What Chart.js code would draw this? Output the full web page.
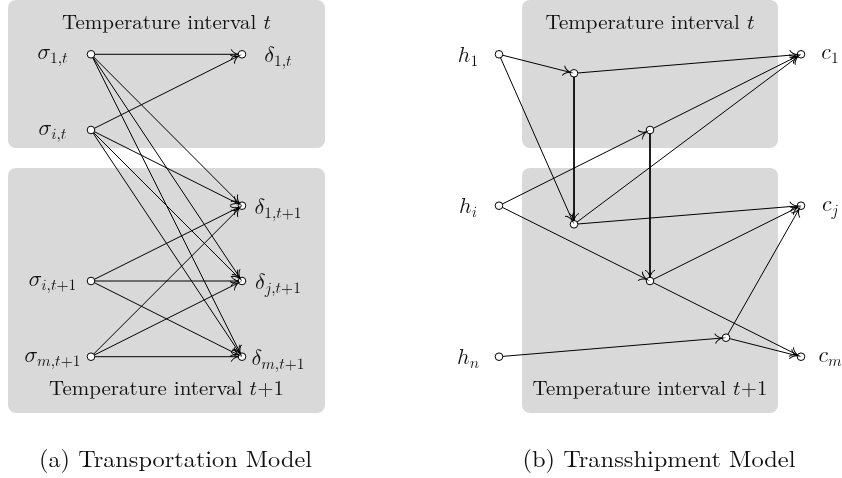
<!DOCTYPE html>
<html>
<head>
  <meta charset="UTF-8">
  <title>Transportation and Transshipment Models</title>
  <script src="https://cdn.jsdelivr.net/npm/chart.js"></script>
  <style>
    body, html {
      margin: 0;
      padding: 0;
      background: #fff;
    }

    #chart-container {
      width: 842px;
      height: 478px;
      position: relative;
    }
  </style>
</head>
<body>

  <div id="chart-container">
    <canvas id="diagram"></canvas>
  </div>

  <script>
    // nodes (diagram units, y grows downwards)
    const nodeIds  = ['s1t', 'sit', 'sit1', 'smt1', 'd1t', 'd1t1', 'djt1', 'dmt1',
                      'h1', 'hi', 'hn', 'a', 'b', 'c', 'd', 'e', 'c1', 'cj', 'cm'];
    const nodeX    = [91, 91, 91, 91, 242, 242, 242, 242,
                      499, 499, 499, 574, 650, 574, 650, 726, 801, 801, 801];
    const nodeY    = [54.3, 130, 281, 356.7, 54.3, 205.7, 281, 356.7,
                      54.3, 205.7, 356.7, 73.3, 130, 224.3, 281, 337.7, 54.3, 205.7, 356.7];
    const nodeSym  = ['σ', 'σ', 'σ', 'σ', 'δ', 'δ', 'δ', 'δ',
                      'h', 'h', 'h', '', '', '', '', '', 'c', 'c', 'c'];
    const nodeSub  = ['1,t', 'i,t', 'i,t+1', 'm,t+1', '1,t', '1,t+1', 'j,t+1', 'm,t+1',
                      '1', 'i', 'n', '', '', '', '', '', '1', 'j', 'm'];

    // arcs
    const edgeFrom = ['s1t', 's1t', 's1t', 's1t', 'sit', 'sit', 'sit', 'sit',
                      'sit1', 'sit1', 'sit1', 'smt1', 'smt1', 'smt1',
                      'h1', 'h1', 'a', 'a', 'hi', 'hi', 'b', 'b', 'c', 'c', 'd', 'd', 'hn', 'e', 'e'];
    const edgeTo   = ['d1t', 'd1t1', 'djt1', 'dmt1', 'd1t', 'd1t1', 'djt1', 'dmt1',
                      'd1t1', 'djt1', 'dmt1', 'd1t1', 'djt1', 'dmt1',
                      'a', 'c', 'c1', 'c', 'b', 'd', 'c1', 'd', 'c1', 'cj', 'cj', 'cm', 'e', 'cj', 'cm'];

    // temperature interval regions
    const boxLeft   = [8, 8, 522, 522];
    const boxRight  = [325, 325, 778, 778];
    const boxTop    = [0, 168, 0, 168];
    const boxBottom = [148, 413, 148, 413];
    const boxPeriod = ['t', 't+1', 't', 't+1'];

    const captions = ['(a) Transportation Model', '(b) Transshipment Model'];

    const ROMAN = '"Latin Modern Roman", "Liberation Serif", serif';
    const MATH = '"Latin Modern Math", "Latin Modern Roman", "Liberation Serif", serif';
    const NODE_R = 3.8;

    const pos = {};
    nodeIds.forEach((id, i) => { pos[id] = { x: nodeX[i], y: nodeY[i] }; });

    const edgeSets = edgeFrom.map((f, i) => ({
      data: [pos[f], pos[edgeTo[i]]],
      showLine: true,
      borderColor: '#000',
      borderWidth: 1,
      pointRadius: 0,
      order: 1
    }));

    const nodeSet = {
      data: nodeIds.map(id => pos[id]),
      pointRadius: NODE_R,
      pointBackgroundColor: '#fff',
      pointBorderColor: '#000',
      pointBorderWidth: 1,
      showLine: false,
      order: 0
    };

    // math italic code points
    function mathIt(s) {
      let out = '';
      for (const ch of s) {
        if (ch === 'h') out += '\u210E';
        else if (/[a-z]/.test(ch)) out += String.fromCodePoint(0x1D44E + ch.charCodeAt(0) - 97);
        else if (ch === 'σ') out += '\u{1D70E}';
        else if (ch === 'δ') out += '\u{1D6FF}';
        else out += ch;
      }
      return out;
    }

    // draw runs of text centred on x; parts = [text, font, dy]
    function drawParts(ctx, parts, x, y, width) {
      let w = 0;
      parts.forEach(p => { ctx.font = p[1]; p.w = ctx.measureText(p[0]).width; w += p.w; });
      const k = width ? width / w : 1;
      ctx.save();
      ctx.translate(x - w * k / 2, y);
      ctx.scale(k, 1);
      let cx = 0;
      parts.forEach(p => { ctx.font = p[1]; ctx.fillText(p[0], cx, p[2]); cx += p.w; });
      ctx.restore();
    }

    function mathParts(sym, sub) {
      return [[mathIt(sym), '22px ' + MATH, 0], [mathIt(sub), '15.5px ' + MATH, 4]];
    }

    function periodParts(p, size) {
      const parts = [['Temperature interval ', size + 'px ' + ROMAN, 0], [mathIt('t'), size + 'px ' + MATH, 0]];
      if (p.length > 1) parts.push([p.slice(1), size + 'px ' + ROMAN, 0]);
      return parts;
    }

    const labelDx = { 'σ': -38.5, 'δ': 36, 'h': -31, 'c': 29 };

    const decor = {
      id: 'decor',
      beforeDatasetsDraw(chart) {
        const ctx = chart.ctx, xs = chart.scales.x, ys = chart.scales.y;
        ctx.save();
        ctx.fillStyle = '#d9d9d9';
        boxLeft.forEach((l, i) => {
          const x0 = xs.getPixelForValue(l), x1 = xs.getPixelForValue(boxRight[i]);
          const y0 = ys.getPixelForValue(boxTop[i]), y1 = ys.getPixelForValue(boxBottom[i]);
          ctx.beginPath();
          ctx.roundRect(x0, y0, x1 - x0, y1 - y0, 8);
          ctx.fill();
        });
        ctx.fillStyle = '#111';
        ctx.textBaseline = 'alphabetic';
        boxLeft.forEach((l, i) => {
          const cx = xs.getPixelForValue((l + boxRight[i]) / 2);
          const top = boxPeriod[i] === 't';
          const by = top ? ys.getPixelForValue(boxTop[i]) + 28.5 : ys.getPixelForValue(boxBottom[i]) - 18.5;
          drawParts(ctx, periodParts(boxPeriod[i], 20), cx, by, top ? 209 : 235);
        });
        ctx.restore();
      },
      afterDatasetsDraw(chart) {
        const ctx = chart.ctx, xs = chart.scales.x, ys = chart.scales.y;
        ctx.save();
        // arrow tips ("to" style)
        ctx.strokeStyle = '#000';
        ctx.lineWidth = 1;
        edgeFrom.forEach((f, i) => {
          const ax = xs.getPixelForValue(pos[f].x), ay = ys.getPixelForValue(pos[f].y);
          const bx = xs.getPixelForValue(pos[edgeTo[i]].x), by = ys.getPixelForValue(pos[edgeTo[i]].y);
          const ang = Math.atan2(by - ay, bx - ax);
          ctx.save();
          ctx.translate(bx - Math.cos(ang) * (NODE_R + 0.5), by - Math.sin(ang) * (NODE_R + 0.5));
          ctx.rotate(ang);
          ctx.beginPath();
          ctx.moveTo(-6.5, -5);
          ctx.bezierCurveTo(-6, -2.6, -2, -0.35, 0.7, 0);
          ctx.bezierCurveTo(-2, 0.35, -6, 2.6, -6.5, 5);
          ctx.stroke();
          ctx.restore();
        });
        // node labels
        ctx.fillStyle = '#111';
        nodeIds.forEach((id, i) => {
          if (!nodeSym[i]) return;
          const parts = mathParts(nodeSym[i], nodeSub[i]);
          ctx.font = parts[0][1];
          const m = ctx.measureText(parts[0][0]);
          const px = xs.getPixelForValue(nodeX[i]) + labelDx[nodeSym[i]];
          const py = ys.getPixelForValue(nodeY[i]) + (m.actualBoundingBoxAscent - m.actualBoundingBoxDescent) / 2;
          drawParts(ctx, parts, px, py, 0);
        });
        // sub captions
        captions.forEach((c, i) => {
          const cx = xs.getPixelForValue((boxLeft[i * 2] + boxRight[i * 2]) / 2 + 9);
          drawParts(ctx, [[c, '23.6px ' + ROMAN, 0]], cx, ys.getPixelForValue(467), 273);
        });
        ctx.restore();
      }
    };

    const ctx = document.getElementById('diagram').getContext('2d');
    const chart = new Chart(ctx, {
      type: 'scatter',
      data: { datasets: [nodeSet, ...edgeSets] },
      options: {
        responsive: true,
        maintainAspectRatio: false,
        animation: false,
        events: [],
        layout: { padding: 0, autoPadding: false },
        plugins: {
          legend: { display: false },
          tooltip: { enabled: false }
        },
        scales: {
          x: { type: 'linear', min: 0, max: 842, display: false },
          y: { type: 'linear', min: 0, max: 478, reverse: true, display: false }
        }
      },
      plugins: [decor]
    });
  </script>
</body>
</html>
